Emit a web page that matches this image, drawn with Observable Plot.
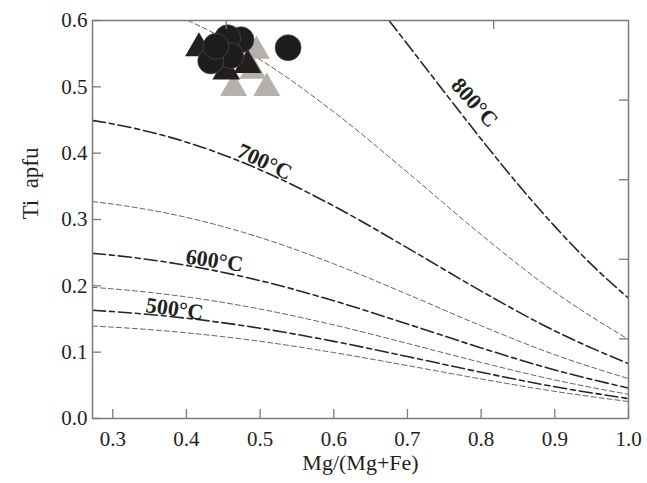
<!DOCTYPE html>
<html><head><meta charset="utf-8">
<script src="https://cdn.jsdelivr.net/npm/d3@7"></script>
<script src="https://cdn.jsdelivr.net/npm/@observablehq/plot@0.6"></script>
<style>body{margin:0;background:#fff}</style>
</head><body><div id="chart"></div>
<script>
// Isotherm curves (Ti apfu vs Mg/(Mg+Fe))
const gridX = [0.2725, 0.3, 0.4, 0.5, 0.6, 0.7, 0.8, 0.9, 1.0];
const ti450 = [0.1393, 0.1377, 0.1292, 0.1163, 0.0994, 0.0798, 0.0596, 0.0409, 0.0256];
const ti500 = [0.1631, 0.1612, 0.1512, 0.1361, 0.1163, 0.0934, 0.0697, 0.0479, 0.0300];
const ti550 = [0.1977, 0.1954, 0.1833, 0.1650, 0.1410, 0.1132, 0.0845, 0.0581, 0.0364];
const ti600 = [0.2490, 0.2461, 0.2309, 0.2078, 0.1775, 0.1425, 0.1064, 0.0732, 0.0458];
const ti650 = [0.3270, 0.3232, 0.3032, 0.2728, 0.2331, 0.1872, 0.1398, 0.0961, 0.0601];
const ti700 = [0.4493, 0.4441, 0.4166, 0.3749, 0.3203, 0.2572, 0.1921, 0.1320, 0.0826];
const x750 = [0.402, 0.45, 0.5, 0.6, 0.7, 0.8, 0.9, 1.0];
const ti750 = [0.600, 0.5736, 0.5410, 0.4622, 0.3711, 0.2771, 0.1905, 0.1192];
const x800 = [0.675, 0.7, 0.75, 0.8, 0.85, 0.9, 0.95, 1.0];
const ti800 = [0.600, 0.5642, 0.4923, 0.4213, 0.3531, 0.2896, 0.2319, 0.1813];

// Isotherm labels
const labelText = ["500°C", "600°C", "700°C", "800°C"];
const labelX = [0.384, 0.438, 0.506, 0.791];
const labelY = [0.165, 0.238, 0.387, 0.476];
const labelAngle = [8, 8, 25, 48];

// Samples
const circX = [0.474, 0.456, 0.460, 0.433, 0.440, 0.538];
const circY = [0.571, 0.574, 0.547, 0.539, 0.561, 0.559];
const blkTriX = [0.417, 0.454, 0.483];
const blkTriY = [0.558, 0.523, 0.533];
const grayTriX = [0.495, 0.490, 0.464, 0.509];
const grayTriY = [0.554, 0.524, 0.498, 0.498];

// Ticks
const xTicks = [0.3, 0.4, 0.5, 0.6, 0.7, 0.8, 0.9, 1.0];
const yTicks = [0.0, 0.1, 0.2, 0.3, 0.4, 0.5, 0.6];
const topTicks = [0.454, 0.817];
const rightTicks = [0.12, 0.24, 0.36, 0.48];

const minor = [
  ...gridX.map((x, i) => ({x, y: ti450[i], T: 450})),
  ...gridX.map((x, i) => ({x, y: ti550[i], T: 550})),
  ...gridX.map((x, i) => ({x, y: ti650[i], T: 650})),
  ...x750.map((x, i) => ({x, y: ti750[i], T: 750}))
];
const major = [
  ...gridX.map((x, i) => ({x, y: ti500[i], T: 500})),
  ...gridX.map((x, i) => ({x, y: ti600[i], T: 600})),
  ...gridX.map((x, i) => ({x, y: ti700[i], T: 700})),
  ...x800.map((x, i) => ({x, y: ti800[i], T: 800}))
];
const labels = labelText.map((t, i) => ({t, x: labelX[i], y: labelY[i], a: labelAngle[i]}));
const circles = circX.map((x, i) => ({x, y: circY[i]}));
const blackTri = blkTriX.map((x, i) => ({x, y: blkTriY[i]}));
const grayTri = grayTriX.map((x, i) => ({x, y: grayTriY[i]}));

const axisColor = "#7a7a7a";
const fmt = d3.format(".1f");
const W = 647, H = 483, mL = 92, mR = 19, mT = 20, mB = 65;
const frameW = W - mL - mR, frameH = H - mT - mB, tickLen = 9;

const chart = Plot.plot({
  width: W, height: H,
  marginLeft: mL, marginRight: mR, marginTop: mT, marginBottom: mB,
  style: {fontFamily: "'Liberation Serif', 'Times New Roman', serif", color: "#231f20", background: "#fff"},
  x: {domain: [0.2725, 1.0]},
  y: {domain: [0, 0.6]},
  marks: [
    Plot.line(minor, {x: "x", y: "y", z: "T", curve: "monotone-x", stroke: "#3a3a3a", strokeWidth: 0.8, strokeDasharray: "5,3", clip: true}),
    Plot.line(major, {x: "x", y: "y", z: "T", curve: "monotone-x", stroke: "#262626", strokeWidth: 1.6, strokeDasharray: "13,4,5,4", clip: true}),
    Plot.text(labels, {x: "x", y: "y", text: "t", rotate: "a", fontSize: 22, fontWeight: "bold", fill: "#231f20"}),
    Plot.dot(grayTri, {x: "x", y: "y", symbol: "triangle", r: 10, fill: "#b5b0aa", stroke: "none"}),
    Plot.dot(blackTri, {x: "x", y: "y", symbol: "triangle", r: 10.3, fill: "#231f20", stroke: "none"}),
    Plot.dot(circles, {x: "x", y: "y", r: 13, fill: "#1f1c1d", stroke: "#4d4d4d", strokeWidth: 0.7}),
    Plot.tickX(xTicks, {x: d => d, insetBottom: 0, insetTop: frameH - tickLen, stroke: axisColor, strokeWidth: 1.3}),
    Plot.tickX(topTicks, {x: d => d, insetTop: 0, insetBottom: frameH - tickLen, stroke: axisColor, strokeWidth: 1.3}),
    Plot.tickY(yTicks, {y: d => d, insetLeft: 0, insetRight: frameW - tickLen, stroke: axisColor, strokeWidth: 1.3}),
    Plot.tickY(rightTicks, {y: d => d, insetRight: 0, insetLeft: frameW - tickLen, stroke: axisColor, strokeWidth: 1.3}),
    Plot.frame({stroke: axisColor, strokeWidth: 1.5}),
    Plot.axisX(xTicks, {anchor: "bottom", tickSize: 0, tickPadding: 13, fontSize: 21, tickFormat: fmt, label: null, fill: "#231f20"}),
    Plot.axisY(yTicks, {anchor: "left", tickSize: 0, tickPadding: 5, fontSize: 21, tickFormat: fmt, label: null, fill: "#231f20"}),
    Plot.text(["Mg/(Mg+Fe)"], {frameAnchor: "bottom", dy: 51, fontSize: 22, fill: "#231f20"}),
    Plot.text(["Ti\u00a0\u00a0apfu"], {frameAnchor: "left", dx: -62, rotate: -90, fontSize: 23, fill: "#231f20"})
  ]
});
document.getElementById("chart").appendChild(chart);
</script>
</body></html>
